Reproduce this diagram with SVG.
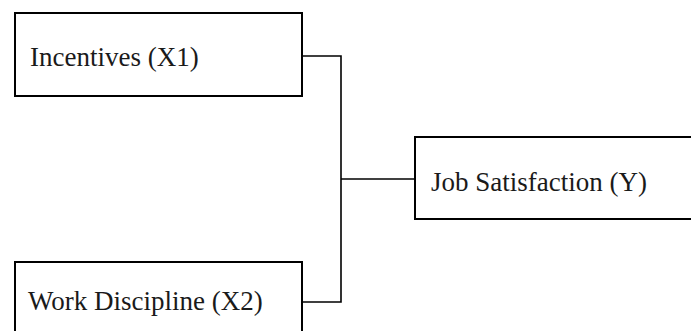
<svg xmlns="http://www.w3.org/2000/svg" width="691" height="331" viewBox="0 0 691 331">
<style>
.box{fill:#fff;stroke:#000;stroke-width:2}
.lbl{font-family:"Liberation Serif","DejaVu Serif",serif;font-size:27px;fill:#1a1a1a}
.con{fill:none;stroke:#000;stroke-width:1.6}
</style>
<rect width="691" height="331" fill="#fff"/>
<g id="connectors">
<polyline class="con" points="302,56 341,56 341,302 302,302"/>
<line class="con" x1="341" y1="179" x2="415" y2="179"/>
</g>
<g id="x1">
<rect class="box" x="15" y="13" width="287" height="83"/>
<text class="lbl" x="30" y="66">Incentives (X1)</text>
</g>
<g id="x2">
<rect class="box" x="15" y="262" width="287" height="80"/>
<text class="lbl" x="28" y="310">Work Discipline (X2)</text>
</g>
<g id="y">
<rect class="box" x="415" y="137" width="290" height="82"/>
<text class="lbl" x="431" y="191">Job Satisfaction (Y)</text>
</g>
</svg>
